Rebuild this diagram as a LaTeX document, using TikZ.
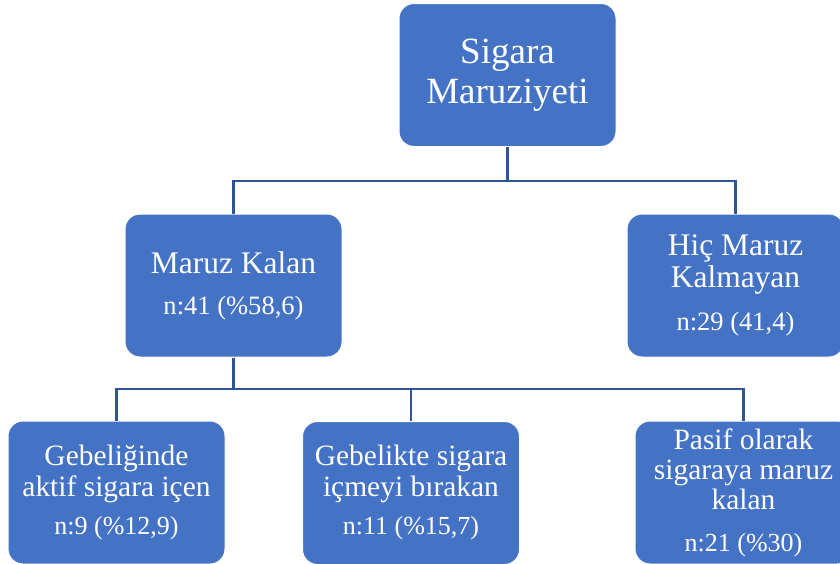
\documentclass[tikz,border=0pt]{standalone}
\usepackage{fontspec}
\setmainfont{Liberation Serif}
\definecolor{boxblue}{RGB}{68,114,196}
\definecolor{lineblue}{RGB}{47,85,151}
\tikzset{every picture/.style={line width=0.75pt}}
\tikzset{
  blok/.style={fill=boxblue, draw=white, line width=0.75pt, rounded corners=11.25pt,
    minimum width=162.75pt, minimum height=107.25pt, text=white, align=center, inner sep=0pt},
  baglanti/.style={draw=lineblue, line width=2pt},
}

\begin{document}
\begin{tikzpicture}[x=0.75pt,y=0.75pt,yscale=-1,xscale=1]
\useasboundingbox (0,0) rectangle (840,564);
\clip (0,0) rectangle (840,564);

%Shape: Rounded Rect [top]
\node [blok, font=\fontsize{27.75}{30}\selectfont] (sigara) at (507.5,75) {Sigara\\Maruziyeti};
%Shape: Rounded Rect [level 1]
\node [blok, font=\fontsize{23.6}{30.75}\selectfont] (maruz) at (233.5,285.5) {Maruz Kalan\\{\fontsize{19.9}{30.75}\selectfont n:41 (\%58,6)}};
\node [blok, font=\fontsize{23.6}{24}\selectfont] (hicmaruz) at (735.5,285.5) {Hiç Maruz\\Kalmayan\\[8.25pt]{\fontsize{19.9}{24}\selectfont n:29 (41,4)}};
%Shape: Rounded Rect [level 2]
\node [blok, font=\fontsize{22.1}{23.25}\selectfont] (aktif) at (116.5,492.5) {Gebeliğinde\\aktif sigara içen\\[5.25pt]{\fontsize{19.5}{23.25}\selectfont n:9 (\%12,9)}};
\node [blok, font=\fontsize{22.1}{23.25}\selectfont] (birakan) at (411,493) {Gebelikte sigara\\içmeyi bırakan\\[5.25pt]{\fontsize{19.5}{23.25}\selectfont n:11 (\%15,7)}};
\node [blok, font=\fontsize{22.1}{22.5}\selectfont] (pasif) at (743.5,492.5) {Pasif olarak\\sigaraya maruz\\kalan\\[9pt]{\fontsize{19.5}{22.5}\selectfont n:21 (\%30)}};

%Straight Lines
\coordinate (ust) at (507.5,181);
\coordinate (alt) at (233.5,389);
\draw [baglanti] (sigara.south) -- (ust);
\draw [baglanti] (maruz.north) |- (ust) -| (hicmaruz.north);
\draw [baglanti] (maruz.south) -- (alt);
\draw [baglanti] (aktif.north) |- (alt) -| (pasif.north);
\draw [baglanti] (alt) -| (birakan.north);

\end{tikzpicture}
\end{document}
